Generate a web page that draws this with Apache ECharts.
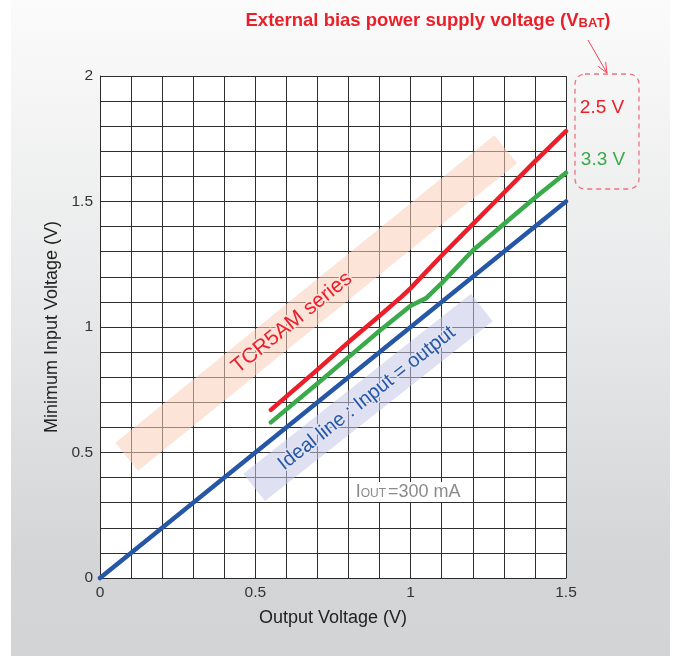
<!DOCTYPE html>
<html><head><meta charset="utf-8">
<script src="https://cdn.jsdelivr.net/npm/echarts@6/dist/echarts.min.js"></script>
<style>html,body{margin:0;padding:0;background:#fff}#c{width:676px;height:656px}</style>
</head><body><div id="c"></div>
<script>
// ---- data ----
const xTickLabels = [0, 0.5, 1, 1.5];
const yTickLabels = [0, 0.5, 1, 1.5, 2];
const outV_25 = [0.55, 0.7, 0.8, 0.9, 0.97, 1.0, 1.1, 1.2, 1.3, 1.4, 1.5];
const minIn_25 = [0.67, 0.83, 0.94, 1.045, 1.12, 1.155, 1.285, 1.41, 1.535, 1.66, 1.78];
const outV_33 = [0.55, 0.7, 0.8, 0.9, 0.97, 1.0, 1.05, 1.1, 1.2, 1.3, 1.4, 1.5];
const minIn_33 = [0.62, 0.775, 0.88, 0.985, 1.055, 1.085, 1.115, 1.175, 1.305, 1.41, 1.515, 1.615];
const outV_ideal = [0, 1.5];
const minIn_ideal = [0, 1.5];
// annotation bands (data coordinates of band centre lines)
const bandSeriesX = [0.086, 1.306];
const bandSeriesY = [0.483, 1.708];
const bandIdealX = [0.496, 1.229];
const bandIdealY = [0.361, 1.078];
const ioutPos = [0.81, 0.343];

const FONT = '"Liberation Sans", Arial, Helvetica, sans-serif';
const RED = '#ea1f29', GREEN = '#3aaa4b', BLUE = '#2656a6';
const zip = (a, b) => a.map((v, i) => [v, b[i]]);
const fmt = labels => v => {
  const r = Math.round(v * 10) / 10;
  return labels.some(l => Math.abs(l - r) < 1e-9) ? String(r) : '';
};

const chart = echarts.init(document.getElementById('c'), null, {renderer: 'canvas'});
const axisCommon = {
  type: 'value', interval: 0.1,
  axisLine: {show: true, lineStyle: {color: '#2a2a2a', width: 1}},
  axisTick: {show: false},
  splitLine: {show: true, lineStyle: {color: '#2e2e2e', width: 1}},
  nameLocation: 'middle',
  nameTextStyle: {fontFamily: FONT, fontSize: 18, color: '#222'},
  axisLabel: {fontFamily: FONT, fontSize: 15.5, color: '#333', showMinLabel: true, showMaxLabel: true}
};
chart.setOption({
  animation: false,
  backgroundColor: 'transparent',
  grid: {left: 100, right: 110, top: 76, bottom: 78, show: true, backgroundColor: '#fff', borderWidth: 0},
  xAxis: Object.assign({}, axisCommon, {
    min: 0, max: 1.5, name: 'Output Voltage (V)', nameGap: 31,
    axisLabel: Object.assign({}, axisCommon.axisLabel, {margin: 7, formatter: fmt(xTickLabels)})
  }),
  yAxis: Object.assign({}, axisCommon, {
    min: 0, max: 2, name: 'Minimum Input Voltage (V)', nameGap: 37,
    axisLabel: Object.assign({}, axisCommon.axisLabel, {margin: 7, formatter: fmt(yTickLabels)})
  }),
  series: [
    {type: 'line', silent: true, symbol: 'none', z: 1, data: zip(bandSeriesX, bandSeriesY),
     lineStyle: {width: 36, cap: 'butt', color: 'rgba(249,206,184,0.55)'}},
    {type: 'line', silent: true, symbol: 'none', z: 1, data: zip(bandIdealX, bandIdealY),
     lineStyle: {width: 35, cap: 'butt', color: 'rgba(196,201,232,0.55)'}},
    {name: 'Ideal', type: 'line', symbol: 'none', z: 3, clip: false, data: zip(outV_ideal, minIn_ideal),
     lineStyle: {width: 4.5, color: BLUE, cap: 'round', join: 'round'}},
    {name: '3.3 V', type: 'line', symbol: 'none', z: 4, data: zip(outV_33, minIn_33),
     lineStyle: {width: 4.5, color: GREEN, cap: 'round', join: 'round'}},
    {name: '2.5 V', type: 'line', symbol: 'none', z: 5, data: zip(outV_25, minIn_25),
     lineStyle: {width: 4.5, color: RED, cap: 'round', join: 'round'}}
  ]
});

const px = p => chart.convertToPixel({gridIndex: 0}, p);
const along = (xs, ys, t) => px([xs[0] + (xs[1] - xs[0]) * t, ys[0] + (ys[1] - ys[0]) * t]);
const ang = (xs, ys) => { const a = px([xs[0], ys[0]]), b = px([xs[1], ys[1]]); return Math.atan2(a[1] - b[1], b[0] - a[0]); };

const sPos = along(bandSeriesX, bandSeriesY, 0.436);
const iPos = along(bandIdealX, bandIdealY, 0.495);
const io = px(ioutPos);

// arrow
const aFrom = [588, 40], aTo = [607, 73];
const d = Math.atan2(aTo[1] - aFrom[1], aTo[0] - aFrom[0]);
const head = s => [aTo[0] - 11 * Math.cos(d + s), aTo[1] - 11 * Math.sin(d + s)];

chart.setOption({
  graphic: [
    {type: 'rect', z: -10, silent: true, shape: {x: 11, y: 0, width: 659, height: 656},
     style: {fill: new echarts.graphic.LinearGradient(0, 0, 0, 1, [
       {offset: 0, color: '#fbfbfb'}, {offset: 0.5, color: '#e6e7e8'}, {offset: 0.85, color: '#d4d5d6'}, {offset: 1, color: '#d3d4d5'}])}},
    {type: 'text', z: 10, silent: true, x: sPos[0], y: sPos[1], rotation: ang(bandSeriesX, bandSeriesY),
     style: {text: 'TCR5AM series', font: '21px ' + FONT, fill: RED, align: 'center', verticalAlign: 'middle',
             stroke: '#fbe3d8', lineWidth: 3}},
    {type: 'text', z: 10, silent: true, x: iPos[0], y: iPos[1], rotation: ang(bandIdealX, bandIdealY),
     style: {text: 'Ideal line : Input = output', font: '20px ' + FONT, fill: BLUE, align: 'center', verticalAlign: 'middle',
             stroke: '#e1e3f1', lineWidth: 3}},
    {type: 'text', z: 10, silent: true, x: io[0], y: io[1],
     style: {text: '{a|I}{s|OUT}{a|=300 mA}', align: 'left', verticalAlign: 'middle',
             backgroundColor: '#fff', padding: [1, 4],
             rich: {a: {fontFamily: FONT, fontSize: 18, fill: '#8a8a8a'},
                    s: {fontFamily: FONT, fontSize: 12, fill: '#8a8a8a', padding: [4, 2, 0, 0]}}}},
    {type: 'text', z: 10, silent: true, x: 428, y: 21,
     style: {text: '{a|External bias power supply voltage (V}{s|BAT}{a|)}', align: 'center', verticalAlign: 'middle',
             rich: {a: {fontFamily: FONT, fontSize: 18.5, fontWeight: 'bold', fill: RED},
                    s: {fontFamily: FONT, fontSize: 13, fontWeight: 'bold', fill: RED, padding: [4, 0, 0, 0]}}}},
    {type: 'rect', z: 10, silent: true, shape: {x: 575, y: 74, width: 64, height: 115, r: 10},
     style: {fill: null, stroke: '#ef7380', lineWidth: 1.3, lineDash: [5, 4]}},
    {type: 'text', z: 10, silent: true, x: 602, y: 108,
     style: {text: '2.5 V', font: '19px ' + FONT, fill: RED, align: 'center', verticalAlign: 'middle'}},
    {type: 'text', z: 10, silent: true, x: 603, y: 160,
     style: {text: '3.3 V', font: '19px ' + FONT, fill: GREEN, align: 'center', verticalAlign: 'middle'}},
    {type: 'polyline', z: 10, silent: true, shape: {points: [aFrom, aTo]},
     style: {stroke: '#ef4455', lineWidth: 1, fill: null}},
    {type: 'polyline', z: 10, silent: true, shape: {points: [head(0.4), aTo, head(-0.4)]},
     style: {stroke: '#ef4455', lineWidth: 1, fill: null}}
  ]
});
</script></body></html>
